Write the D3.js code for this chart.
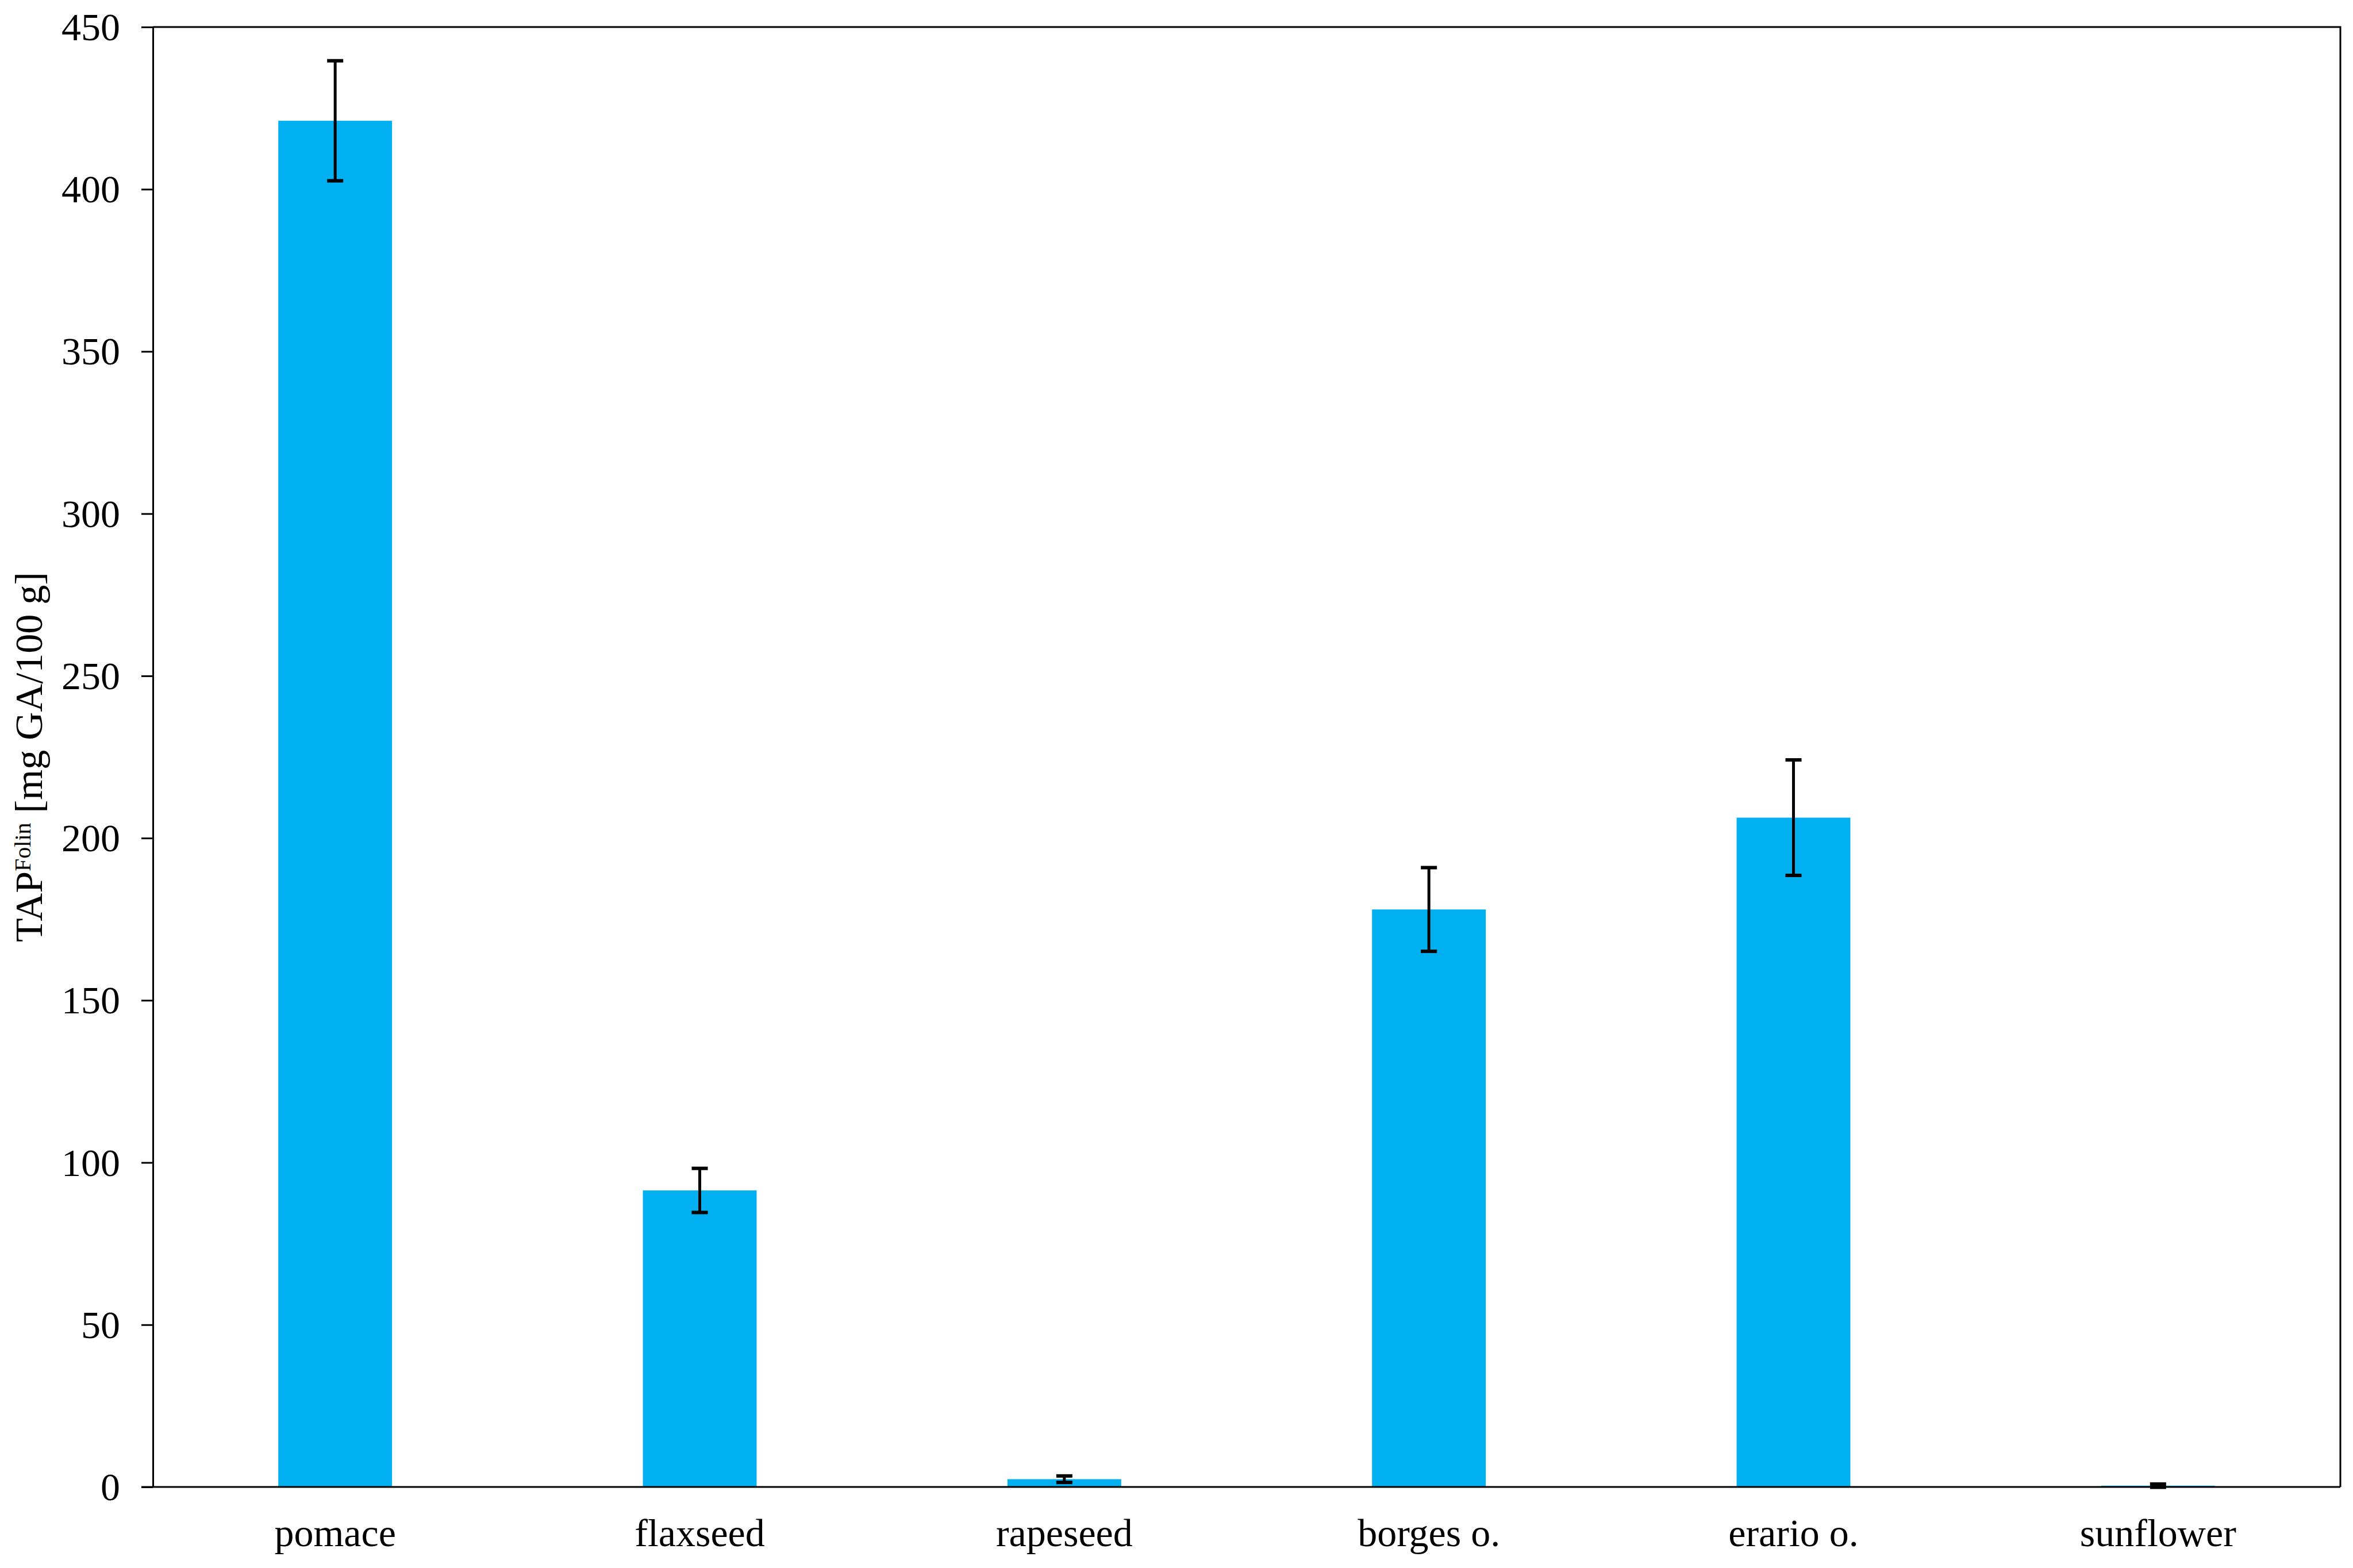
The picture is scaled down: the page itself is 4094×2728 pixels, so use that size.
<!DOCTYPE html>
<html>
<head>
<meta charset="utf-8">
<script src="https://cdn.jsdelivr.net/npm/d3@7"></script>
<style>
  body { margin: 0; background: #fff; }
  text { font-family: "Liberation Serif", "Times New Roman", serif; fill: #000; }
</style>
</head>
<body>
<svg id="chart"></svg>
<script>
let width = 4094, height = 2728;

let categories = ["pomace", "flaxseed", "rapeseed", "borges o.", "erario o.", "sunflower"];
let means = [421.1, 91.4, 2.4, 178.0, 206.3, 0.4];
let errors = [18.5, 6.8, 1.0, 12.9, 17.8, 0.5];
let yTicks = [0, 50, 100, 150, 200, 250, 300, 350, 400, 450];

let margin = {top: 47, right: 22, bottom: 141, left: 266};
let barColor = "#00b0f0";
let fontSize = 68;

let svg = d3.select("#chart")
  .attr("width", width)
  .attr("height", height);

let x = d3.scaleBand()
  .domain(categories)
  .range([margin.left, width - margin.right])
  .paddingInner(0.688)
  .paddingOuter(0.344);

let y = d3.scaleLinear()
  .domain([0, 450])
  .range([height - margin.bottom, margin.top]);

let data = categories.map((c, i) => ({cat: c, mean: means[i], err: errors[i]}));

// bars
svg.append("g")
  .selectAll("rect")
  .data(data)
  .enter().append("rect")
    .attr("x", d => x(d.cat))
    .attr("width", x.bandwidth())
    .attr("y", d => y(d.mean))
    .attr("height", d => y(0) - y(d.mean))
    .attr("fill", barColor);

// error bars
let capHalf = 14;
let eg = svg.append("g")
  .attr("stroke", "#000")
  .selectAll("g")
  .data(data)
  .enter().append("g");

eg.append("line")
  .attr("x1", d => x(d.cat) + x.bandwidth() / 2)
  .attr("x2", d => x(d.cat) + x.bandwidth() / 2)
  .attr("y1", d => y(d.mean + d.err))
  .attr("y2", d => y(d.mean - d.err))
  .attr("stroke-width", 5);

[1, -1].forEach(s => {
  eg.append("line")
    .attr("x1", d => x(d.cat) + x.bandwidth() / 2 - capHalf)
    .attr("x2", d => x(d.cat) + x.bandwidth() / 2 + capHalf)
    .attr("y1", d => y(d.mean + s * d.err))
    .attr("y2", d => y(d.mean + s * d.err))
    .attr("stroke-width", 6);
});

// frame: top and right
let x0 = margin.left, x1 = width - margin.right;
let yTop = margin.top, yBot = height - margin.bottom;
svg.append("path")
  .attr("d", `M${x0},${yTop}H${x1}V${yBot}`)
  .attr("fill", "none")
  .attr("stroke", "#000")
  .attr("stroke-width", 3);

// y axis
let yAxis = svg.append("g")
  .attr("transform", `translate(${x0},0)`)
  .call(d3.axisLeft(y).tickValues(yTicks).tickSize(20).tickSizeOuter(0).tickPadding(37));
yAxis.select(".domain").attr("stroke-width", 3);
yAxis.selectAll(".tick line").attr("stroke-width", 3);
yAxis.selectAll(".tick text")
  .style("font-size", fontSize + "px")
  .attr("dy", "0.33em");

// x axis
let xAxis = svg.append("g")
  .attr("transform", `translate(0,${yBot})`)
  .call(d3.axisBottom(x).tickSize(0).tickSizeOuter(0).tickPadding(55));
xAxis.select(".domain").attr("stroke-width", 3).attr("d", `M${x0 - 20},0H${x1}`);
xAxis.selectAll(".tick text")
  .style("font-size", fontSize + "px")
  .attr("dy", "0.71em");

// y label
let yLabel = svg.append("text")
  .attr("transform", `translate(73,${(yTop + yBot) / 2}) rotate(-90)`)
  .attr("text-anchor", "middle")
  .style("font-size", fontSize + "px");
yLabel.append("tspan").text("TAP");
yLabel.append("tspan").attr("dy", -20).style("font-size", "40px").text("Folin");
yLabel.append("tspan").attr("dy", 20).text(" [mg GA/100 g]");
</script>
</body>
</html>
